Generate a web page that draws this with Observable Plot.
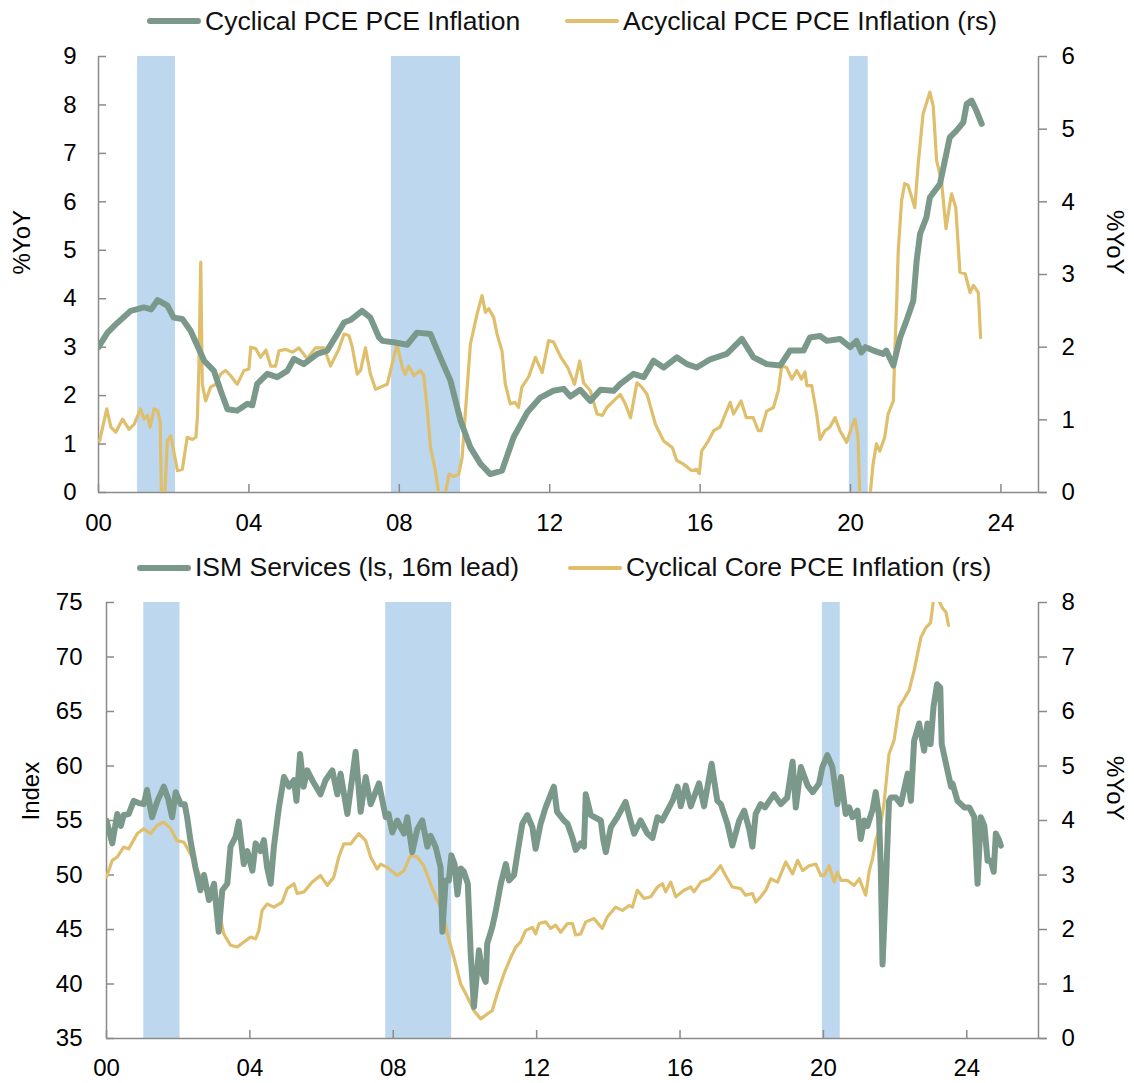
<!DOCTYPE html>
<html><head><meta charset="utf-8">
<script src="https://cdn.jsdelivr.net/npm/d3@7"></script>
<script src="https://cdn.jsdelivr.net/npm/@observablehq/plot@0.6"></script>
<style>
body{margin:0;background:#fff;font-family:"Liberation Sans",Arial,sans-serif;}
#wrap{width:1134px;height:1083px;position:relative;overflow:hidden;background:#fff}
.legend{position:relative;font-size:26.5px;color:#111}
.item{position:absolute;top:0;height:100%;display:flex;align-items:center;white-space:nowrap}
.sw{display:inline-block;width:54px;margin-right:4px;border-radius:3px}
svg{display:block}
</style></head><body><div id="wrap"></div>
<script>
// ---------- DATA ----------
const recessions = [[2001.04, 2002.05], [2007.79, 2009.63], [2019.97, 2020.47]];

const cyclicalPCE = [[2000.0,3.0],[2000.24,3.3],[2000.5,3.5],[2000.86,3.75],[2001.21,3.82],[2001.4,3.78],[2001.57,3.97],[2001.83,3.86],[2002.0,3.61],[2002.23,3.58],[2002.45,3.34],[2002.81,2.72],[2003.07,2.51],[2003.25,2.1],[2003.43,1.72],[2003.69,1.69],[2003.96,1.83],[2004.09,1.8],[2004.22,2.24],[2004.49,2.45],[2004.75,2.38],[2005.02,2.51],[2005.2,2.76],[2005.46,2.65],[2005.82,2.86],[2006.08,2.93],[2006.35,3.27],[2006.53,3.51],[2006.7,3.56],[2007.01,3.75],[2007.23,3.61],[2007.46,3.2],[2007.55,3.13],[2007.85,3.1],[2008.21,3.05],[2008.47,3.3],[2008.83,3.27],[2009.09,2.79],[2009.36,2.31],[2009.63,1.48],[2009.89,0.93],[2010.16,0.59],[2010.42,0.38],[2010.73,0.45],[2011.04,1.14],[2011.4,1.65],[2011.75,1.96],[2012.1,2.1],[2012.37,2.14],[2012.55,1.98],[2012.81,2.12],[2013.08,1.89],[2013.35,2.12],[2013.7,2.1],[2013.88,2.24],[2014.23,2.45],[2014.5,2.38],[2014.76,2.72],[2015.03,2.58],[2015.38,2.79],[2015.65,2.65],[2015.91,2.58],[2016.27,2.75],[2016.71,2.86],[2017.11,3.17],[2017.42,2.79],[2017.6,2.72],[2017.77,2.65],[2018.13,2.62],[2018.39,2.93],[2018.75,2.93],[2018.92,3.2],[2019.19,3.23],[2019.37,3.13],[2019.72,3.17],[2019.99,3.0],[2020.16,3.13],[2020.29,2.89],[2020.4,3.0],[2020.61,2.93],[2020.87,2.86],[2020.95,2.93],[2021.14,2.62],[2021.32,3.2],[2021.49,3.55],[2021.67,3.96],[2021.76,4.79],[2021.85,5.34],[2022.02,5.68],[2022.11,6.09],[2022.38,6.37],[2022.64,7.33],[2022.82,7.47],[2023.0,7.64],[2023.09,8.02],[2023.22,8.09],[2023.35,7.88],[2023.49,7.61]];

const acyclicalPCE = [[2000.03,0.71],[2000.22,1.15],[2000.33,0.9],[2000.46,0.83],[2000.64,1.01],[2000.81,0.87],[2000.95,0.94],[2001.12,1.15],[2001.21,1.01],[2001.3,1.06],[2001.37,0.9],[2001.48,1.15],[2001.57,1.13],[2001.64,0.98],[2001.68,-0.2],[2001.74,-0.3],[2001.83,0.71],[2001.92,0.78],[2002.0,0.57],[2002.1,0.3],[2002.23,0.32],[2002.36,0.76],[2002.5,0.73],[2002.59,0.76],[2002.63,1.03],[2002.67,1.72],[2002.72,3.17],[2002.76,1.49],[2002.85,1.26],[2002.98,1.45],[2003.12,1.49],[2003.25,1.63],[2003.38,1.68],[2003.51,1.61],[2003.69,1.49],[2003.87,1.68],[2004.0,1.7],[2004.05,2.0],[2004.18,1.98],[2004.31,1.86],[2004.45,1.96],[2004.58,1.74],[2004.71,1.74],[2004.8,1.95],[2004.98,1.97],[2005.16,1.93],[2005.33,1.99],[2005.55,1.84],[2005.77,1.99],[2006.0,1.99],[2006.17,1.74],[2006.39,1.97],[2006.53,2.18],[2006.66,2.16],[2006.75,2.0],[2006.88,1.63],[2006.97,1.68],[2007.1,1.99],[2007.23,1.63],[2007.37,1.42],[2007.5,1.45],[2007.68,1.49],[2007.81,1.77],[2007.94,2.04],[2008.08,1.72],[2008.16,1.63],[2008.25,1.74],[2008.39,1.61],[2008.56,1.68],[2008.65,1.61],[2008.74,1.17],[2008.83,0.62],[2008.96,0.3],[2009.05,-0.02],[2009.14,-0.05],[2009.23,0.0],[2009.32,0.25],[2009.45,0.22],[2009.58,0.25],[2009.67,0.48],[2009.76,1.12],[2009.89,2.04],[2010.07,2.46],[2010.2,2.71],[2010.29,2.48],[2010.38,2.53],[2010.51,2.41],[2010.6,2.18],[2010.73,1.95],[2010.82,1.49],[2010.95,1.22],[2011.08,1.24],[2011.17,1.17],[2011.26,1.45],[2011.44,1.59],[2011.62,1.86],[2011.8,1.65],[2011.97,2.09],[2012.1,2.07],[2012.3,1.86],[2012.48,1.72],[2012.66,1.49],[2012.8,1.81],[2012.9,1.51],[2013.08,1.4],[2013.26,1.08],[2013.4,1.06],[2013.52,1.17],[2013.7,1.26],[2013.88,1.35],[2014.01,1.22],[2014.15,1.03],[2014.32,1.51],[2014.45,1.45],[2014.59,1.35],[2014.81,0.94],[2015.03,0.71],[2015.26,0.62],[2015.38,0.44],[2015.56,0.39],[2015.78,0.3],[2015.9,0.32],[2015.98,0.26],[2016.04,0.57],[2016.22,0.71],[2016.36,0.85],[2016.53,0.9],[2016.67,1.08],[2016.8,1.24],[2016.89,1.08],[2017.09,1.26],[2017.23,1.03],[2017.41,1.03],[2017.55,0.85],[2017.62,0.85],[2017.77,1.12],[2017.95,1.17],[2018.08,1.4],[2018.17,1.74],[2018.3,1.72],[2018.44,1.56],[2018.57,1.68],[2018.7,1.56],[2018.79,1.66],[2018.84,1.47],[2018.97,1.47],[2019.1,1.08],[2019.19,0.73],[2019.32,0.85],[2019.45,0.9],[2019.59,1.03],[2019.72,0.85],[2019.9,0.69],[2020.03,0.9],[2020.12,1.01],[2020.2,0.76],[2020.25,-0.1],[2020.51,-0.1],[2020.6,0.39],[2020.69,0.67],[2020.78,0.57],[2020.91,0.76],[2021.0,1.08],[2021.14,1.26],[2021.18,1.95],[2021.23,2.64],[2021.27,3.33],[2021.36,4.02],[2021.44,4.25],[2021.53,4.23],[2021.71,3.92],[2021.8,4.52],[2021.93,5.21],[2022.11,5.51],[2022.2,5.32],[2022.29,4.57],[2022.42,4.29],[2022.54,3.63],[2022.64,3.97],[2022.69,4.11],[2022.8,3.92],[2022.91,3.03],[2023.05,3.01],[2023.18,2.75],[2023.27,2.85],[2023.4,2.75],[2023.46,2.13]];

const ismServices = [[2000.0,55.0],[2000.16,52.9],[2000.3,55.6],[2000.4,54.5],[2000.48,55.5],[2000.62,55.6],[2000.76,56.8],[2000.9,56.6],[2001.04,56.5],[2001.13,57.8],[2001.27,55.3],[2001.42,56.8],[2001.6,58.1],[2001.72,57.0],[2001.83,55.3],[2001.93,57.6],[2002.07,56.5],[2002.18,56.5],[2002.25,55.3],[2002.34,53.2],[2002.48,50.7],[2002.62,48.6],[2002.72,50.0],[2002.86,47.7],[2003.0,49.2],[2003.13,44.8],[2003.23,48.6],[2003.37,49.2],[2003.46,52.6],[2003.6,53.5],[2003.69,54.9],[2003.83,51.0],[2003.93,52.2],[2004.07,50.4],[2004.16,52.9],[2004.3,52.2],[2004.39,53.2],[2004.48,50.7],[2004.58,49.2],[2004.67,52.6],[2004.81,56.2],[2004.95,59.0],[2005.09,58.1],[2005.23,58.7],[2005.3,56.8],[2005.4,61.1],[2005.5,58.1],[2005.6,59.6],[2005.74,58.7],[2005.97,57.4],[2006.11,58.7],[2006.3,59.6],[2006.44,57.4],[2006.53,59.3],[2006.72,55.6],[2006.95,61.3],[2007.09,55.8],[2007.23,59.0],[2007.37,56.5],[2007.6,58.4],[2007.79,55.3],[2007.87,55.6],[2007.97,53.9],[2008.11,55.0],[2008.3,53.8],[2008.39,55.3],[2008.53,52.1],[2008.67,54.2],[2008.81,55.0],[2008.95,52.6],[2009.04,53.6],[2009.18,52.6],[2009.32,50.7],[2009.37,44.8],[2009.46,49.5],[2009.55,49.5],[2009.62,51.8],[2009.71,51.0],[2009.79,48.2],[2009.88,50.6],[2009.97,50.3],[2010.08,49.2],[2010.16,42.8],[2010.25,37.9],[2010.39,43.1],[2010.49,40.9],[2010.58,40.2],[2010.62,43.7],[2010.76,45.2],[2010.86,46.7],[2011.0,49.2],[2011.14,51.0],[2011.23,49.5],[2011.37,50.0],[2011.46,51.9],[2011.6,54.7],[2011.74,55.5],[2011.88,54.4],[2011.97,52.4],[2012.11,54.7],[2012.25,56.2],[2012.48,58.1],[2012.57,55.8],[2012.76,55.0],[2012.86,54.7],[2013.0,53.4],[2013.09,52.3],[2013.23,52.9],[2013.32,52.6],[2013.37,57.4],[2013.51,55.5],[2013.79,55.0],[2013.86,53.2],[2013.93,52.1],[2014.07,54.4],[2014.25,55.3],[2014.48,56.7],[2014.6,55.2],[2014.72,53.8],[2014.9,55.0],[2015.09,53.8],[2015.23,53.4],[2015.37,55.3],[2015.5,55.0],[2015.79,56.8],[2015.93,58.1],[2016.02,56.3],[2016.16,58.2],[2016.3,56.3],[2016.53,58.4],[2016.67,56.3],[2016.88,60.2],[2017.04,56.8],[2017.14,56.5],[2017.32,54.7],[2017.46,52.7],[2017.65,55.0],[2017.79,55.9],[2017.93,54.2],[2018.02,52.6],[2018.11,55.6],[2018.25,56.5],[2018.37,56.2],[2018.62,57.4],[2018.81,56.5],[2018.99,57.1],[2019.14,60.4],[2019.23,56.2],[2019.37,59.9],[2019.56,58.2],[2019.7,57.6],[2019.88,58.4],[2019.97,59.9],[2020.11,61.0],[2020.25,59.9],[2020.39,56.5],[2020.49,59.0],[2020.62,55.6],[2020.72,56.2],[2020.81,55.3],[2020.95,55.9],[2021.04,53.3],[2021.14,55.0],[2021.23,54.5],[2021.37,56.0],[2021.46,57.6],[2021.55,55.4],[2021.6,50.7],[2021.65,41.8],[2021.74,48.9],[2021.83,56.8],[2021.88,57.1],[2022.02,57.1],[2022.16,56.5],[2022.35,59.3],[2022.44,56.8],[2022.53,62.3],[2022.67,63.9],[2022.81,61.4],[2022.9,63.9],[2022.99,62.0],[2023.07,65.4],[2023.17,67.5],[2023.26,67.2],[2023.3,62.0],[2023.44,59.9],[2023.56,58.1],[2023.6,58.4],[2023.74,56.8],[2023.93,56.2],[2024.07,56.2],[2024.21,55.3],[2024.3,49.2],[2024.39,55.3],[2024.49,54.5],[2024.58,51.3],[2024.67,51.3],[2024.75,50.3],[2024.81,53.8],[2024.9,53.2],[2024.95,52.7]];

const cyclicalCorePCE = [[2000.0,2.96],[2000.16,3.27],[2000.3,3.33],[2000.48,3.51],[2000.62,3.48],[2000.86,3.76],[2001.04,3.85],[2001.23,3.76],[2001.41,3.91],[2001.6,3.97],[2001.79,3.85],[2001.97,3.63],[2002.16,3.6],[2002.34,3.39],[2002.62,2.96],[2002.9,2.66],[2003.13,2.38],[2003.27,1.92],[2003.46,1.71],[2003.65,1.68],[2003.83,1.77],[2004.02,1.86],[2004.16,1.83],[2004.25,1.98],[2004.34,2.35],[2004.48,2.47],[2004.67,2.41],[2004.9,2.5],[2005.04,2.75],[2005.23,2.84],[2005.32,2.66],[2005.51,2.69],[2005.74,2.87],[2005.97,2.99],[2006.16,2.81],[2006.34,2.96],[2006.48,3.33],[2006.62,3.57],[2006.81,3.57],[2007.04,3.76],[2007.23,3.63],[2007.37,3.33],[2007.55,3.11],[2007.65,3.2],[2007.83,3.14],[2008.11,2.99],[2008.3,3.08],[2008.48,3.36],[2008.67,3.33],[2008.85,3.17],[2009.04,2.84],[2009.23,2.53],[2009.37,2.35],[2009.51,1.92],[2009.69,1.49],[2009.88,1.0],[2010.07,0.76],[2010.25,0.51],[2010.44,0.36],[2010.62,0.45],[2010.76,0.51],[2010.9,0.82],[2011.09,1.19],[2011.28,1.49],[2011.42,1.68],[2011.55,1.77],[2011.69,1.98],[2011.88,2.04],[2011.97,1.92],[2012.07,2.11],[2012.25,2.14],[2012.39,2.02],[2012.53,2.08],[2012.67,1.95],[2012.86,2.11],[2013.0,2.11],[2013.09,1.9],[2013.23,1.92],[2013.37,2.14],[2013.6,2.2],[2013.83,2.02],[2013.97,2.23],[2014.2,2.41],[2014.39,2.35],[2014.58,2.44],[2014.67,2.41],[2014.81,2.72],[2015.0,2.57],[2015.18,2.6],[2015.37,2.78],[2015.51,2.84],[2015.6,2.69],[2015.74,2.87],[2015.88,2.6],[2016.11,2.72],[2016.3,2.78],[2016.39,2.69],[2016.58,2.87],[2016.81,2.93],[2016.95,3.02],[2017.13,3.17],[2017.27,2.99],[2017.46,2.78],[2017.69,2.75],[2017.83,2.63],[2018.02,2.66],[2018.11,2.5],[2018.25,2.6],[2018.39,2.72],[2018.53,2.93],[2018.72,2.87],[2018.95,3.24],[2019.14,3.02],[2019.28,3.27],[2019.42,3.08],[2019.6,3.17],[2019.79,3.2],[2019.93,2.99],[2020.02,2.99],[2020.16,3.17],[2020.3,2.87],[2020.39,3.05],[2020.49,2.9],[2020.67,2.9],[2020.86,2.81],[2021.0,2.93],[2021.18,2.63],[2021.28,3.08],[2021.37,3.3],[2021.46,3.63],[2021.6,3.94],[2021.69,4.31],[2021.83,5.22],[2021.97,5.47],[2022.11,6.08],[2022.25,6.23],[2022.39,6.39],[2022.53,6.75],[2022.72,7.36],[2022.86,7.54],[2022.99,7.63],[2023.07,8.05],[2023.21,8.05],[2023.32,7.9],[2023.42,7.82],[2023.49,7.58]];

const xTicks = [2000, 2004, 2008, 2012, 2016, 2020, 2024];
const topLeftTicks = [0, 1, 2, 3, 4, 5, 6, 7, 8, 9];
const topRightTicks = [0, 1, 2, 3, 4, 5, 6];
const botLeftTicks = [35, 40, 45, 50, 55, 60, 65, 70, 75];
const botRightTicks = [0, 1, 2, 3, 4, 5, 6, 7, 8];

const topLegend = ["Cyclical PCE PCE Inflation", "Acyclical PCE PCE Inflation (rs)"];
const botLegend = ["ISM Services (ls, 16m lead)", "Cyclical Core PCE Inflation (rs)"];
const topTitles = ["%YoY", "%YoY"];
const botTitles = ["Index", "%YoY"];

// ---------- STYLE ----------
const GREEN = "#7b998b", GOLD = "#dfbe6c", REC = "#bdd7ee", GRAY = "#8a8a8a";
const FONT = '"Liberation Sans", Arial, sans-serif';
const yearFmt = d => String(d % 100).padStart(2, "0");

const wrap = document.getElementById("wrap");

function legend(labels, lefts, height) {
  const div = document.createElement("div");
  div.className = "legend";
  div.style.height = height + "px";
  labels.forEach((lab, i) => {
    const it = document.createElement("div");
    it.className = "item";
    it.style.left = lefts[i] + "px";
    const sw = document.createElement("span");
    sw.className = "sw";
    sw.style.background = i === 0 ? GREEN : GOLD;
    sw.style.height = (i === 0 ? 6 : 4) + "px";
    it.appendChild(sw);
    it.appendChild(document.createTextNode(lab));
    div.appendChild(it);
  });
  wrap.appendChild(div);
}

function panel({height, marginLeft, marginRight, marginTop, marginBottom, xDomain, yDomain, leftTicks, rightTicks, toLeft, fromLeft, series, titles, labelPad, titleOffsetL, titleOffsetR}) {
  const recData = recessions.map(([a, b]) => ({a, b}));
  const marks = [
    Plot.rect(recData, {x1: "a", x2: "b", fill: REC}),
    // axis lines
    Plot.ruleX([xDomain[0]], {stroke: GRAY, strokeWidth: 1.5}),
    Plot.ruleX([xDomain[1]], {stroke: GRAY, strokeWidth: 1.5}),
    Plot.ruleY([yDomain[0]], {stroke: GRAY, strokeWidth: 1.5, insetRight: -8}),
    // left ticks (inward) and labels
    Plot.axisY({ticks: leftTicks, tickSize: 8, dx: 8, tickFormat: () => "", stroke: GRAY, strokeWidth: 1.5}),
    Plot.axisY({ticks: leftTicks, tickSize: 0, tickPadding: labelPad.left, fill: "#000", label: null}),
    // right ticks (outward) and labels
    Plot.axisY({anchor: "right", ticks: rightTicks.map(toLeft), tickSize: 8, tickFormat: () => "", stroke: GRAY, strokeWidth: 1.5, label: null}),
    Plot.axisY({anchor: "right", ticks: rightTicks.map(toLeft), tickSize: 0, tickPadding: labelPad.right, tickFormat: d => String(Math.round(fromLeft(d) * 100) / 100), fill: "#000", label: null}),
    // x ticks (inward) and labels
    Plot.axisX({ticks: xTicks, tickSize: 8, dy: -8, tickFormat: () => "", stroke: GRAY, strokeWidth: 1.5, label: null}),
    Plot.axisX({ticks: xTicks, tickSize: 0, tickPadding: labelPad.bottom, tickFormat: yearFmt, fill: "#000", label: null}),
    // axis titles
    Plot.text([titles[0]], {text: d => d, frameAnchor: "left", rotate: -90, dx: -titleOffsetL, fill: "#000"}),
    Plot.text([titles[1]], {text: d => d, frameAnchor: "right", rotate: 90, dx: titleOffsetR, fill: "#000"}),
    // series
    Plot.line(series[1].data, {x: d => d[0], y: d => toLeft(d[1]), stroke: GOLD, strokeWidth: 3.2, clip: true}),
    Plot.line(series[0].data, {x: d => d[0], y: d => d[1], stroke: GREEN, strokeWidth: 6, strokeLinejoin: "round", clip: true}),
  ];
  const svg = Plot.plot({
    width: 1134, height, marginLeft, marginRight, marginTop, marginBottom,
    x: {domain: xDomain, label: null},
    y: {domain: yDomain, label: null},
    style: {fontSize: "24px", fontFamily: FONT, color: "#000", background: "transparent", overflow: "visible"},
    marks
  });
  wrap.appendChild(svg);
}

legend(topLegend, [147, 565], 42);
panel({
  height: 503, marginLeft: 98, marginRight: 96, marginTop: 14, marginBottom: 53,
  xDomain: [2000, 2025], yDomain: [0, 9],
  leftTicks: topLeftTicks, rightTicks: topRightTicks,
  toLeft: v => v * 1.5, fromLeft: v => v / 1.5,
  series: [{data: cyclicalPCE}, {data: acyclicalPCE}],
  titles: topTitles, labelPad: {left: 22, right: 23, bottom: 21},
  titleOffsetL: 76, titleOffsetR: 76
});
legend(botLegend, [137, 568], 45);
panel({
  height: 493, marginLeft: 106, marginRight: 96, marginTop: 12, marginBottom: 45,
  xDomain: [2000, 2026], yDomain: [35, 75],
  leftTicks: botLeftTicks, rightTicks: botRightTicks,
  toLeft: v => 35 + v * 5, fromLeft: v => (v - 35) / 5,
  series: [{data: ismServices}, {data: cyclicalCorePCE}],
  titles: botTitles, labelPad: {left: 24, right: 23, bottom: 20},
  titleOffsetL: 75, titleOffsetR: 76
});
</script></body></html>
